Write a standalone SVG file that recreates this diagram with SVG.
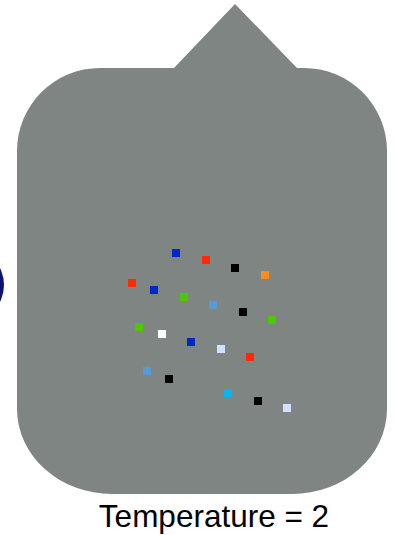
<svg xmlns="http://www.w3.org/2000/svg" width="405" height="535" viewBox="0 0 405 535">
<style>
.pt{stroke:none}
.lbl{font-family:"Liberation Sans",Arial,sans-serif;font-size:31.5px;fill:#000}
</style>
<rect width="405" height="535" fill="#ffffff"/>
<g id="orb"><circle cx="-34" cy="285" r="38" fill="#0c1470"/></g>
<g id="bubble"><path d="M100,68 L174,68 L235,4 L297,68 L304,68 A83,83 0 0 1 387,151 L387,409 A95,85 0 0 1 292,494 L112,494 A95,85 0 0 1 17,409 L17,151 A83,83 0 0 1 100,68 Z" fill="#7f8582"/></g>
<g id="points" class="pt">
<rect x="172" y="249" width="8" height="8" fill="#0028c8"/>
<rect x="202" y="256" width="8" height="8" fill="#ff2a00"/>
<rect x="231" y="264" width="8" height="8" fill="#000000"/>
<rect x="261" y="271" width="8" height="8" fill="#ff8c1a"/>
<rect x="128" y="279" width="8" height="8" fill="#ff2a00"/>
<rect x="150" y="286" width="8" height="8" fill="#0028c8"/>
<rect x="180" y="293" width="8" height="8" fill="#4cc800"/>
<rect x="209" y="301" width="8" height="8" fill="#5b9bd5"/>
<rect x="239" y="308" width="8" height="8" fill="#000000"/>
<rect x="268" y="316" width="8" height="8" fill="#4cc800"/>
<rect x="135" y="323" width="8" height="8" fill="#4cc800"/>
<rect x="158" y="330" width="8" height="8" fill="#ffffff"/>
<rect x="187" y="338" width="8" height="8" fill="#0028c8"/>
<rect x="217" y="345" width="8" height="8" fill="#d0e2ff"/>
<rect x="246" y="353" width="8" height="8" fill="#ff2a00"/>
<rect x="143" y="367" width="8" height="8" fill="#5b9bd5"/>
<rect x="165" y="375" width="8" height="8" fill="#000000"/>
<rect x="224" y="389" width="8" height="8" fill="#00b8ee"/>
<rect x="254" y="397" width="8" height="8" fill="#000000"/>
<rect x="283" y="404" width="8" height="8" fill="#d0e2ff"/>
</g>
<g id="caption"><text class="lbl" x="214" y="527" text-anchor="middle">Temperature = 2</text></g>
</svg>
